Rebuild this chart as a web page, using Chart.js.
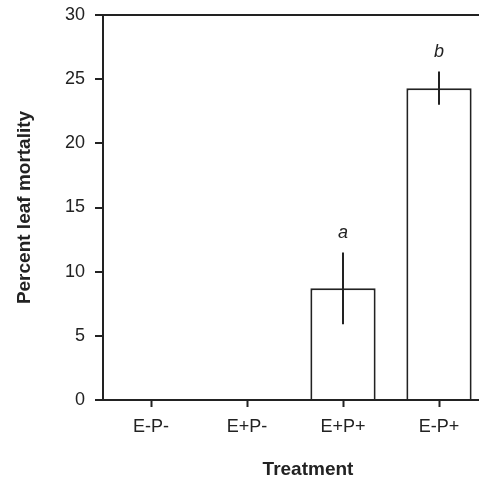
<!DOCTYPE html>
<html>
<head>
<meta charset="utf-8">
<script src="https://cdn.jsdelivr.net/npm/chart.js@4/dist/chart.umd.min.js"></script>
<style>
  html, body { margin: 0; padding: 0; background: #fff; overflow: hidden; }
  #wrap { position: relative; width: 500px; height: 479px; }
</style>
</head>
<body>
<div id="wrap"><canvas id="barChart" width="500" height="479"></canvas></div>
<script>
const treatments = ["E-P-", "E+P-", "E+P+", "E-P+"];
const mortality = [0, 0, 8.7, 24.3];
const errors = [0, 0, 2.8, 1.3];
const letters = ["", "", "a", "b"];
const yTicks = [0, 5, 10, 15, 20, 25, 30];

const ink = "#222";
const fam = "'Liberation Sans', Arial, sans-serif";

// barres d'erreur + lettres au-dessus
const errorBars = {
  id: "errorBars",
  afterDatasetsDraw(chart) {
    const ctx = chart.ctx;
    const x = chart.scales.x;
    const y = chart.scales.y;
    ctx.save();
    ctx.strokeStyle = ink;
    ctx.lineWidth = 2;
    ctx.fillStyle = ink;
    ctx.font = "italic 18px " + fam;
    ctx.textAlign = "center";
    ctx.textBaseline = "middle";
    for (let i = 0; i < mortality.length; i++) {
      if (!errors[i]) continue;
      const px = x.getPixelForValue(i);
      const top = y.getPixelForValue(mortality[i] + errors[i]);
      const bot = y.getPixelForValue(mortality[i] - errors[i]);
      ctx.beginPath();
      ctx.moveTo(px, top);
      ctx.lineTo(px, bot);
      ctx.stroke();
      ctx.fillText(letters[i], px, top - 19);
    }
    // titre de l'axe x
    ctx.font = "bold 19px " + fam;
    ctx.fillText("Treatment", (chart.chartArea.left + chart.chartArea.right) / 2 + 13, 470);
    ctx.restore();
  },
};

const ctx = document.getElementById("barChart").getContext("2d");
const myChart = new Chart(ctx, {
  type: "bar",
  data: {
    labels: treatments,
    datasets: [
      {
        label: "Percent leaf mortality",
        data: mortality,
        backgroundColor: "#ffffff",
        borderColor: ink,
        borderWidth: 2,
        borderSkipped: "bottom",
        barPercentage: 0.68,
        categoryPercentage: 1,
      },
    ],
  },
  options: {
    responsive: false,
    animation: false,
    layout: { padding: { left: 0, top: 15, right: 13, bottom: 0 } },
    plugins: {
      legend: { display: false },
      tooltip: { enabled: false },
    },
    scales: {
      x: {
        grid: {
          offset: false,
          drawOnChartArea: false,
          tickLength: 7,
          tickColor: ink,
          tickWidth: 2,
        },
        border: { color: ink, width: 2 },
        ticks: {
          color: ink,
          padding: 9,
          font: { family: fam, size: 18 },
        },
        afterFit(scale) {
          scale.height = 79;
          scale.paddingLeft = 0;
          scale.paddingRight = 0;
        },
      },
      y: {
        min: 0,
        max: 30,
        afterBuildTicks(scale) {
          scale.ticks = yTicks.map((v) => ({ value: v }));
        },
        grid: {
          color: (c) => (c.tick && c.tick.value === 30 ? ink : "rgba(0,0,0,0)"),
          lineWidth: 2,
          tickLength: 8,
          tickColor: ink,
          tickWidth: 2,
        },
        border: { color: ink, width: 2 },
        ticks: {
          color: ink,
          padding: 10,
          font: { family: fam, size: 18 },
        },
        title: {
          display: true,
          text: "Percent leaf mortality",
          color: ink,
          padding: { top: 13, bottom: 0 },
          font: { family: fam, size: 19, weight: "bold" },
        },
        afterFit(scale) {
          scale.width = 103;
          scale.paddingTop = 0;
          scale.paddingBottom = 0;
        },
      },
    },
  },
  plugins: [errorBars],
});
myChart.update();
</script>
</body>
</html>
